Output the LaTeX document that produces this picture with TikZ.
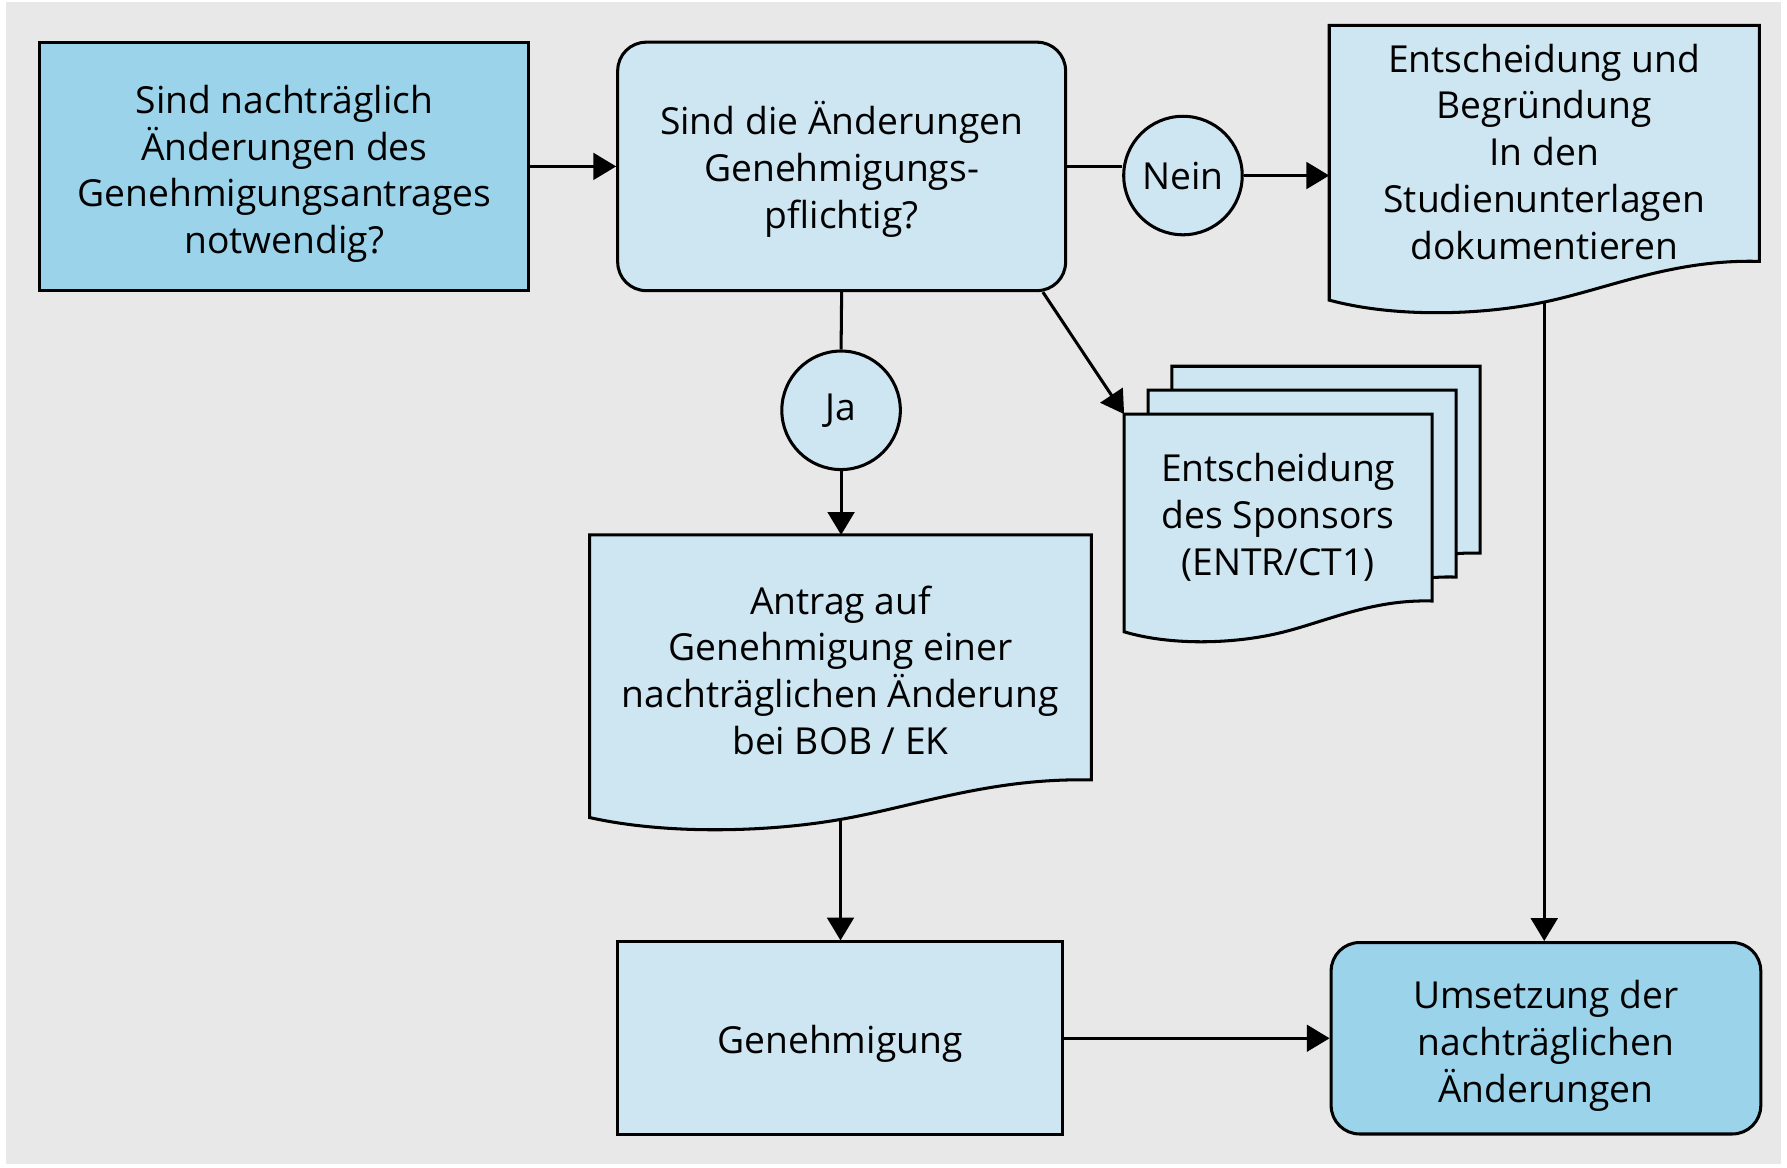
\documentclass[tikz,border=0pt]{standalone}
\usepackage{fontspec}
\setmainfont{Open Sans}
\usetikzlibrary{arrows.meta,calc,backgrounds}

\definecolor{deepblue}{HTML}{9BD3EB}
\definecolor{paleblue}{HTML}{CDE6F1}
\definecolor{panelgray}{HTML}{E8E8E8}

\tikzset{
	boxsize/.style 2 args={minimum width={#1*0.3pt}, minimum height={#2*0.3pt}},
	flowbox/.style={draw, line width=0.8pt, fill=paleblue, inner sep=0pt, align=center},
	roundbox/.style={flowbox, rounded corners=7.5pt},
	answer/.style={flowbox, circle, minimum size=31.2pt},
	docbox/.style={inner sep=0pt, align=center},
	docfill/.style={draw, line width=0.8pt, fill=paleblue},
	textdrop/.style={text height=#1},
	flow/.style={line width=0.8pt, -{Triangle[length=6pt, width=7pt]}},
	link/.style={line width=0.8pt}
}

\newcommand{\docshape}[3]{%
	\path[docfill] (#1.north west) -- (#1.north east) -- ($(#1.north east)+(0,#2)$)
		.. controls ($(#1.north west)!0.8!(#1.north east)+(0,{#2-0.06*#3})$)
		and ($(#1.north west)!0.65!(#1.north east)+(0,{#2+0.7*#3})$)
		.. ($(#1.north west)!0.5!(#1.north east)+(0,{#2+1.05*#3})$) coordinate (#1w)
		.. controls ($(#1.north west)!0.35!(#1.north east)+(0,{#2+1.4*#3})$)
		and ($(#1.north west)!0.15!(#1.north east)+(0,{#2+1.45*#3})$)
		.. ($(#1.north west)+(0,{#2+#3})$) -- cycle;}

\begin{document}
\begin{tikzpicture}[x=0.3pt, y=-0.3pt, font=\fontsize{9.8}{12.3}\selectfont]
	\useasboundingbox (0,0) rectangle (1568,1024);

	\node[flowbox, fill=deepblue, boxsize={429}{218}, textdrop=48.2pt] (ask) at (249.5,146) {Sind nachträglich\\Änderungen des\\Genehmigungsantrages\\notwendig?};
	\node[roundbox, boxsize={393}{218}, textdrop=35pt] (check) at (738.5,146) {Sind die Änderungen\\Genehmigungs-\\pflichtig?};
	\node[answer] (nein) at (1038,154) {Nein};
	\node[answer] (ja) at (738,360) {Ja};
	\node[docbox, boxsize={376}{220}] (record) at (1355,133) {Entscheidung und\\Begründung\\In den\\Studienunterlagen\\dokumentieren};
	\node[docbox, boxsize={269}{180}] (sponsorc) at (1163.5,412) {};
	\node[docbox, boxsize={269}{180}] (sponsorb) at (1142.5,433) {};
	\node[docbox, boxsize={269}{180}] (sponsor) at (1121.5,454) {Entscheidung\\des Sponsors\\(ENTR/CT1)};
	\node[docbox, boxsize={439}{236}] (antrag) at (737.5,588) {Antrag auf\\Genehmigung einer\\nachträglichen Änderung\\bei BOB / EK};
	\node[flowbox, boxsize={390}{169}, textdrop=10.6pt] (approval) at (737,911) {Genehmigung};
	\node[roundbox, fill=deepblue, boxsize={377}{168}, textdrop=36pt] (apply) at (1356.5,911) {Umsetzung der\\nachträglichen\\Änderungen};

	\begin{scope}[on background layer]
		\fill[panelgray] (5,2) rectangle (1563,1021);
		\docshape{record}{207}{34}
		\docshape{sponsorc}{164}{27}
		\docshape{sponsorb}{164}{27}
		\docshape{sponsor}{164}{27}
		\docshape{antrag}{215}{33}
	\end{scope}

	\draw[flow] (ask.east) -- (check.west);
	\draw[link] (check.east) -- (check.east -| nein.west);
	\draw[flow] (nein.east) -- (nein.east -| record.west);
	\draw[link] (check.south) -- (ja.north);
	\draw[flow] (ja.south) -- (ja.south |- antrag.north);
	\draw[flow] (check.-32) -- (sponsor.north west);
	\draw[flow] (antragw) -- (antragw |- approval.north);
	\draw[flow] (recordw) -- (recordw |- apply.north);
	\draw[flow] (approval.east) -- (apply.west);
\end{tikzpicture}
\end{document}
